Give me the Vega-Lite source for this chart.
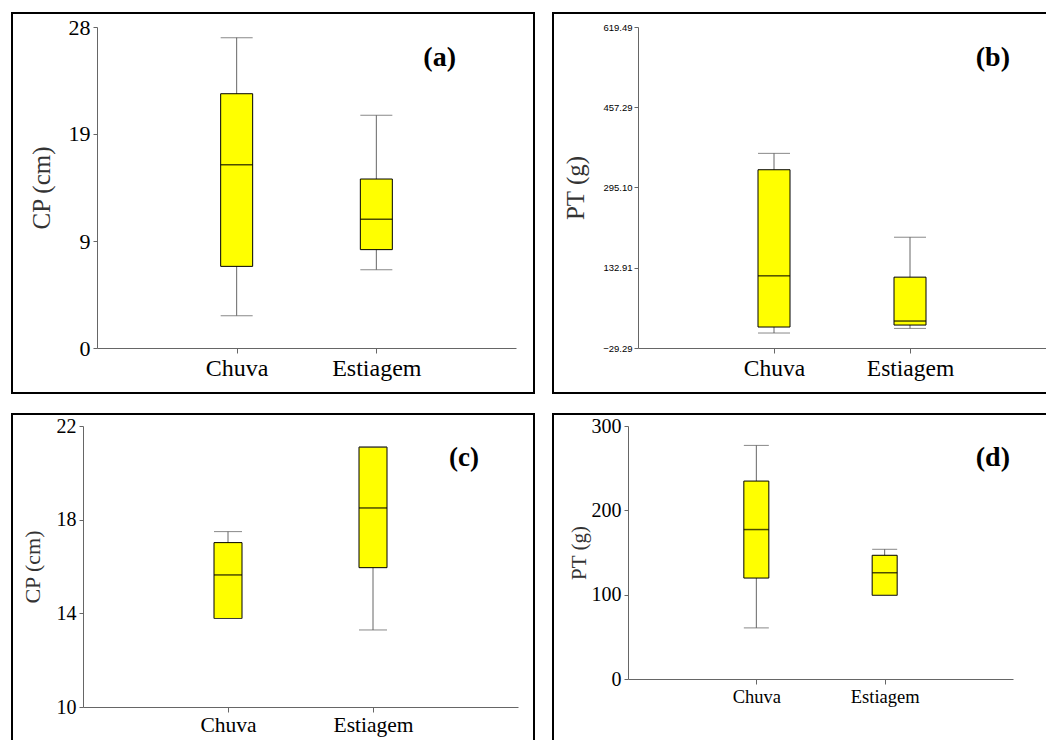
{
  "$schema": "https://vega.github.io/schema/vega-lite/v6.json",
  "padding": {"left": 11, "top": 12, "right": 0, "bottom": 0},
  "background": "#ffffff",
  "config": {
    "font": "Liberation Serif",
    "view": {"stroke": "#000000", "strokeWidth": 2},
    "axis": {"grid": false, "domainColor": "#666666", "tickColor": "#666666", "labelColor": "#000000", "titleColor": "#333333", "titleFont": "Liberation Serif", "titleFontWeight": "normal", "labelFont": "Liberation Serif"},
    "title": {"font": "Liberation Serif", "fontWeight": "bold", "color": "#000000", "anchor": "end", "frame": "group", "baseline": "alphabetic"}
  },
  "datasets": {
    "a": [
      {"grupo": "Chuva", "min": 2.82, "q1": 7.12, "median": 15.99, "q3": 22.18, "max": 27.07},
      {"grupo": "Estiagem", "min": 6.83, "q1": 8.58, "median": 11.22, "q3": 14.74, "max": 20.3}
    ],
    "b": [
      {"grupo": "Chuva", "min": 1.0, "q1": 13.1, "median": 116.6, "q3": 331.0, "max": 364.1},
      {"grupo": "Estiagem", "min": 10.3, "q1": 17.1, "median": 25.2, "q3": 113.9, "max": 194.6}
    ],
    "c": [
      {"grupo": "Chuva", "min": 13.78, "q1": 13.78, "median": 15.64, "q3": 17.02, "max": 17.49},
      {"grupo": "Estiagem", "min": 13.29, "q1": 15.95, "median": 18.5, "q3": 21.1, "max": 21.1}
    ],
    "d": [
      {"grupo": "Chuva", "min": 60.6, "q1": 119.7, "median": 177.2, "q3": 234.7, "max": 277.0},
      {"grupo": "Estiagem", "min": 99.2, "q1": 99.2, "median": 126.0, "q3": 146.7, "max": 153.8}
    ]
  },
  "vconcat": [
    {
      "hconcat": [
        {
          "width": 522, "height": 380,
          "data": {"name": "a"},
          "title": {"text": "(a)", "fontSize": 28, "offset": -59, "dx": -78},
          "encoding": {
            "x": {"field": "grupo", "type": "nominal", "sort": ["Chuva", "Estiagem"],
                  "scale": {"type": "point", "padding": 1, "range": [85, 504]},
                  "axis": {"title": null, "offset": -45, "labelAngle": 0, "labelFontSize": 24, "tickSize": 5, "labelPadding": 3}}
          },
          "layer": [
            {"mark": {"type": "rule", "color": "#666666", "strokeWidth": 1},
             "encoding": {"y": {"field": "min", "type": "quantitative", "title": "CP (cm)",
                                "scale": {"domain": [0, 28], "range": [335, 14], "nice": false, "zero": false},
                                "axis": {"values": [0, 9.3333, 18.6667, 28], "format": ".0f", "offset": -85, "labelFontSize": 22, "tickSize": 4, "labelPadding": 3, "titleFontSize": 25, "titlePadding": 14}},
                          "y2": {"field": "max"}}},
            {"mark": {"type": "bar", "width": 32, "fill": "#ffff00", "stroke": "#000000", "strokeWidth": 1},
             "encoding": {"y": {"field": "q1", "type": "quantitative", "title": "CP (cm)"}, "y2": {"field": "q3"}}},
            {"mark": {"type": "tick", "size": 32, "thickness": 1.5, "color": "#000000"},
             "encoding": {"y": {"field": "median", "type": "quantitative", "title": "CP (cm)"}}},
            {"mark": {"type": "tick", "size": 32, "thickness": 1, "color": "#555555"},
             "encoding": {"y": {"field": "min", "type": "quantitative", "title": "CP (cm)"}}},
            {"mark": {"type": "tick", "size": 32, "thickness": 1, "color": "#555555"},
             "encoding": {"y": {"field": "max", "type": "quantitative", "title": "CP (cm)"}}}
          ]
        },
        {
          "width": 494, "height": 380,
          "data": {"name": "b"},
          "title": {"text": "(b)", "fontSize": 28, "offset": -59, "dx": -37},
          "encoding": {
            "x": {"field": "grupo", "type": "nominal", "sort": ["Chuva", "Estiagem"],
                  "scale": {"type": "point", "padding": 1, "range": [85, 493]},
                  "axis": {"title": null, "offset": -45, "labelAngle": 0, "labelFontSize": 23.5, "tickSize": 5, "labelPadding": 3}}
          },
          "layer": [
            {"mark": {"type": "rule", "color": "#666666", "strokeWidth": 1},
             "encoding": {"y": {"field": "min", "type": "quantitative", "title": "PT (g)",
                                "scale": {"domain": [-29.29, 619.49], "range": [335, 14], "nice": false, "zero": false},
                                "axis": {"values": [-29.29, 132.91, 295.10, 457.29, 619.49], "format": ".2f", "offset": -85, "labelFont": "Liberation Sans", "labelFontSize": 9.5, "tickSize": 4, "labelPadding": 2, "titleFontSize": 25, "titlePadding": 14}},
                          "y2": {"field": "max"}}},
            {"mark": {"type": "bar", "width": 32, "fill": "#ffff00", "stroke": "#000000", "strokeWidth": 1},
             "encoding": {"y": {"field": "q1", "type": "quantitative", "title": "PT (g)"}, "y2": {"field": "q3"}}},
            {"mark": {"type": "tick", "size": 32, "thickness": 1.5, "color": "#000000"},
             "encoding": {"y": {"field": "median", "type": "quantitative", "title": "PT (g)"}}},
            {"mark": {"type": "tick", "size": 32, "thickness": 1, "color": "#555555"},
             "encoding": {"y": {"field": "min", "type": "quantitative", "title": "PT (g)"}}},
            {"mark": {"type": "tick", "size": 32, "thickness": 1, "color": "#555555"},
             "encoding": {"y": {"field": "max", "type": "quantitative", "title": "PT (g)"}}}
          ]
        }
      ],
      "spacing": 17
    },
    {
      "hconcat": [
        {
          "width": 522, "height": 327,
          "data": {"name": "c"},
          "title": {"text": "(c)", "fontSize": 27, "offset": -58, "dx": -55},
          "encoding": {
            "x": {"field": "grupo", "type": "nominal", "sort": ["Chuva", "Estiagem"],
                  "scale": {"type": "point", "padding": 1, "range": [71, 506]},
                  "axis": {"title": null, "offset": -34, "labelAngle": 0, "labelFontSize": 21.5, "tickSize": 5, "labelPadding": 2}}
          },
          "layer": [
            {"mark": {"type": "rule", "color": "#666666", "strokeWidth": 1},
             "encoding": {"y": {"field": "min", "type": "quantitative", "title": "CP (cm)",
                                "scale": {"domain": [10, 22], "range": [293, 12], "nice": false, "zero": false},
                                "axis": {"values": [10, 14, 18, 22], "format": ".0f", "offset": -71, "labelFontSize": 20, "tickSize": 4, "labelPadding": 3, "titleFontSize": 22, "titlePadding": 12}},
                          "y2": {"field": "max"}}},
            {"mark": {"type": "bar", "width": 28, "fill": "#ffff00", "stroke": "#000000", "strokeWidth": 1},
             "encoding": {"y": {"field": "q1", "type": "quantitative", "title": "CP (cm)"}, "y2": {"field": "q3"}}},
            {"mark": {"type": "tick", "size": 28, "thickness": 1.5, "color": "#000000"},
             "encoding": {"y": {"field": "median", "type": "quantitative", "title": "CP (cm)"}}},
            {"mark": {"type": "tick", "size": 28, "thickness": 1, "color": "#555555"},
             "encoding": {"y": {"field": "min", "type": "quantitative", "title": "CP (cm)"}}},
            {"mark": {"type": "tick", "size": 28, "thickness": 1, "color": "#555555"},
             "encoding": {"y": {"field": "max", "type": "quantitative", "title": "CP (cm)"}}}
          ]
        },
        {
          "width": 494, "height": 327,
          "data": {"name": "d"},
          "title": {"text": "(d)", "fontSize": 28, "offset": -58, "dx": -37},
          "encoding": {
            "x": {"field": "grupo", "type": "nominal", "sort": ["Chuva", "Estiagem"],
                  "scale": {"type": "point", "padding": 1, "range": [75, 460]},
                  "axis": {"title": null, "offset": -62, "labelAngle": 0, "labelFontSize": 18.5, "tickSize": 5, "labelPadding": 3}}
          },
          "layer": [
            {"mark": {"type": "rule", "color": "#666666", "strokeWidth": 1},
             "encoding": {"y": {"field": "min", "type": "quantitative", "title": "PT (g)",
                                "scale": {"domain": [0, 300], "range": [265, 12], "nice": false, "zero": false},
                                "axis": {"values": [0, 100, 200, 300], "format": ".0f", "offset": -75, "labelFontSize": 20, "tickSize": 4, "labelPadding": 3, "titleFontSize": 21, "titlePadding": 2}},
                          "y2": {"field": "max"}}},
            {"mark": {"type": "bar", "width": 25, "fill": "#ffff00", "stroke": "#000000", "strokeWidth": 1},
             "encoding": {"y": {"field": "q1", "type": "quantitative", "title": "PT (g)"}, "y2": {"field": "q3"}}},
            {"mark": {"type": "tick", "size": 25, "thickness": 1.5, "color": "#000000"},
             "encoding": {"y": {"field": "median", "type": "quantitative", "title": "PT (g)"}}},
            {"mark": {"type": "tick", "size": 25, "thickness": 1, "color": "#555555"},
             "encoding": {"y": {"field": "min", "type": "quantitative", "title": "PT (g)"}}},
            {"mark": {"type": "tick", "size": 25, "thickness": 1, "color": "#555555"},
             "encoding": {"y": {"field": "max", "type": "quantitative", "title": "PT (g)"}}}
          ]
        }
      ],
      "spacing": 17
    }
  ],
  "spacing": 19
}
